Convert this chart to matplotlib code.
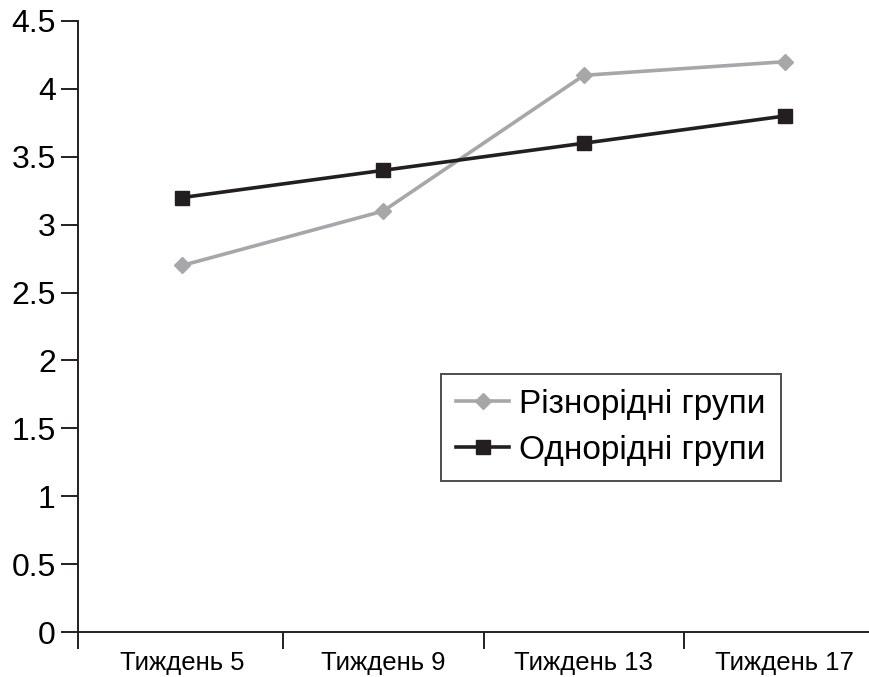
import matplotlib
matplotlib.use("Agg")
import matplotlib.pyplot as plt
from matplotlib.ticker import FuncFormatter, FixedLocator

plt.rcParams["font.family"] = ["Liberation Sans", "DejaVu Sans"]

# ── data ──────────────────────────────────────────────────────────────────
weeks = ["Тиждень 5", "Тиждень 9", "Тиждень 13", "Тиждень 17"]
hetero = [2.7, 3.1, 4.1, 4.2]   # Різнорідні групи
homo = [3.2, 3.4, 3.6, 3.8]     # Однорідні групи

W, H = 869, 677
fig = plt.figure(figsize=(W / 100, H / 100), dpi=100)
ax = fig.add_axes([78 / W, 45 / H, (885 - 78) / W, (632 - 21) / H])

x = range(len(weeks))
ax.plot(x, hetero, color="#a7a7a9", lw=2.6, marker="D", ms=8,
        label="Різнорідні групи")
ax.plot(x, homo, color="#231f20", lw=2.6, marker="s", ms=10,
        label="Однорідні групи")

ax.set_xlim(-0.52, 3.5)
ax.set_ylim(0, 4.5)
ax.set_yticks([i * 0.5 for i in range(10)])
ax.yaxis.set_major_formatter(FuncFormatter(lambda v, p: f"{v:g}"))

# category labels centred, tick marks at the boundaries
ax.set_xticks(list(x))
ax.set_xticklabels(weeks, fontsize=18.5)
ax.tick_params(axis="x", which="major", length=0, pad=14)
ax.xaxis.set_minor_locator(FixedLocator([-0.52, 0.5, 1.5, 2.5, 3.5]))
ax.tick_params(axis="x", which="minor", length=12, width=1.4,
               color="#231f20")
ax.tick_params(axis="y", length=12, width=1.4, color="#231f20",
               labelsize=23, pad=4)

for s in ("top", "right"):
    ax.spines[s].set_visible(False)
for s in ("left", "bottom"):
    ax.spines[s].set_linewidth(1.4)
    ax.spines[s].set_color("#231f20")

leg = ax.legend(loc="lower left", bbox_to_anchor=(0.45, 0.247),
                borderaxespad=0, fontsize=24, frameon=True, fancybox=False,
                handlelength=1.6, handletextpad=0.3, borderpad=0.45,
                labelspacing=0.45)
leg.get_frame().set_edgecolor("#231f20")
leg.get_frame().set_linewidth(1.4)

fig.savefig("out.png", dpi=100)
